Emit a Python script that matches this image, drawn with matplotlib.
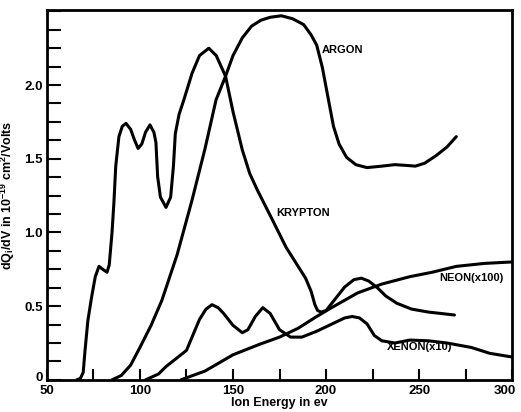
import matplotlib.pyplot as plt
import matplotlib.transforms as mtransforms
from matplotlib.ticker import MultipleLocator

plt.rcParams["font.family"] = ["Liberation Sans", "DejaVu Sans"]
plt.rcParams["mathtext.fontset"] = "custom"
plt.rcParams["mathtext.rm"] = "Liberation Sans"
plt.rcParams["mathtext.bf"] = "Liberation Sans:bold"

# values (ion energy in eV, dQi/dV)
krypton_x = [66, 68, 69.5, 70.5, 72, 74, 76, 78, 80, 82.3, 83.5, 85, 86, 87, 88.7,
             90.5, 92.5, 95, 97, 99, 101, 103, 105.4, 107.5, 108.6, 109.5, 111, 114,
             116.5, 118, 119, 121, 123.6, 128, 132, 137, 141, 146, 150, 155, 159, 163,
             171, 178.5, 184, 189, 192, 194, 195.5, 197.5, 200, 205, 210, 215, 219, 223,
             228, 232, 238, 246, 255, 262, 269]
krypton_y = [0, 0.01, 0.05, 0.2, 0.4, 0.56, 0.7, 0.77, 0.75, 0.73, 0.78, 1.0, 1.2, 1.45, 1.65,
             1.72, 1.74, 1.70, 1.63, 1.57, 1.60, 1.68, 1.73, 1.68, 1.61, 1.38, 1.24, 1.17,
             1.24, 1.45, 1.67, 1.80, 1.90, 2.08, 2.20, 2.25, 2.20, 2.06, 1.82, 1.56, 1.40, 1.29,
             1.09, 0.90, 0.79, 0.69, 0.60, 0.51, 0.47, 0.46, 0.47, 0.55, 0.63, 0.68, 0.69, 0.67,
             0.62, 0.57, 0.52, 0.48, 0.46, 0.45, 0.44]

argon_x = [85, 90, 95, 100, 106, 111.8, 120, 128, 135, 140.9, 146, 150, 155, 160, 165,
           170, 176, 182, 188, 192, 195, 198, 201, 204, 207, 211, 216, 222, 230, 237,
           243, 248, 253, 259, 265, 270]
argon_y = [0, 0.03, 0.1, 0.22, 0.37, 0.54, 0.85, 1.22, 1.57, 1.90, 2.06, 2.2, 2.32, 2.40, 2.44,
           2.46, 2.47, 2.45, 2.41, 2.34, 2.27, 2.12, 1.92, 1.72, 1.60, 1.51, 1.46, 1.44, 1.45, 1.46,
           1.455, 1.45, 1.47, 1.52, 1.58, 1.65]

xenon_x = [103, 110, 114, 118, 125, 132, 135.5, 138.7, 142, 145, 150, 155, 158, 162, 166,
           170, 175, 181, 187, 195, 205, 210, 214, 218, 222, 226, 230, 237, 245, 255,
           265, 278, 288, 300]
xenon_y = [0, 0.04, 0.09, 0.13, 0.2, 0.41, 0.48, 0.51, 0.49, 0.45, 0.37, 0.32, 0.34, 0.43, 0.49,
           0.45, 0.34, 0.29, 0.29, 0.33, 0.39, 0.42, 0.43, 0.42, 0.38, 0.30, 0.265, 0.25, 0.27, 0.265,
           0.25, 0.22, 0.18, 0.155]

neon_x = [122, 135, 150, 164, 175, 185, 195, 203, 217, 230, 245, 257, 270, 285, 300]
neon_y = [0, 0.06, 0.17, 0.24, 0.29, 0.35, 0.43, 0.49, 0.59, 0.65, 0.70, 0.73, 0.77, 0.79, 0.80]

labels = ["ARGON", "KRYPTON", "NEON(x100)", "XENON(x10)"]
label_pos = [(197.8, 2.24), (173, 1.13), (261, 0.69), (232.8, 0.22)]

fig = plt.figure(figsize=(5.21, 4.12), dpi=100)
ax = fig.add_axes([0.090, 0.078, 0.893, 0.898])

for xs, ys in [(krypton_x, krypton_y), (argon_x, argon_y), (xenon_x, xenon_y), (neon_x, neon_y)]:
    ax.plot(xs, ys, color="black", lw=2.2, solid_capstyle="round", solid_joinstyle="round")

for txt, (tx, ty) in zip(labels, label_pos):
    ax.text(tx, ty, txt, fontsize=8, fontweight="bold", va="center", ha="left")

ax.set_xlim(50, 300)
ax.set_ylim(0, 2.51)
ax.set_xticks([50, 100, 150, 200, 250, 300])
ax.set_yticks([0, 0.5, 1.0, 1.5, 2.0])
ax.set_yticklabels(["0", "0.5", "1.0", "1.5", "2.0"])
ax.xaxis.set_minor_locator(MultipleLocator(25))
ax.yaxis.set_minor_locator(MultipleLocator(0.125))
ax.tick_params(which="both", direction="in", width=1.5, right=False, top=False)
ax.tick_params(axis="x", which="both", length=8, pad=4)
ax.tick_params(axis="y", which="both", length=10, pad=3)
ax.tick_params(labelsize=9.5)
for lab in ax.get_xticklabels() + ax.get_yticklabels():
    lab.set_fontweight("bold")
for sp in ax.spines.values():
    sp.set_linewidth(2)

# nudge the corner labels so they stay inside the figure and apart
xl = ax.get_xticklabels()
xl[-1].set_transform(xl[-1].get_transform() + mtransforms.ScaledTranslation(-0.07, 0, fig.dpi_scale_trans))
yl = ax.get_yticklabels()
yl[0].set_transform(yl[0].get_transform() + mtransforms.ScaledTranslation(0, 0.03, fig.dpi_scale_trans))

ax.set_xlabel("Ion Energy in ev", fontsize=9, fontweight="bold", labelpad=0)
ax.set_ylabel(r"dQ$_\mathbf{i}$/dV in 10$^{\mathbf{-19}}$ cm$^\mathbf{2}$/Volts",
              fontsize=9, fontweight="bold", labelpad=5)

plt.savefig("out.png", dpi=100)
